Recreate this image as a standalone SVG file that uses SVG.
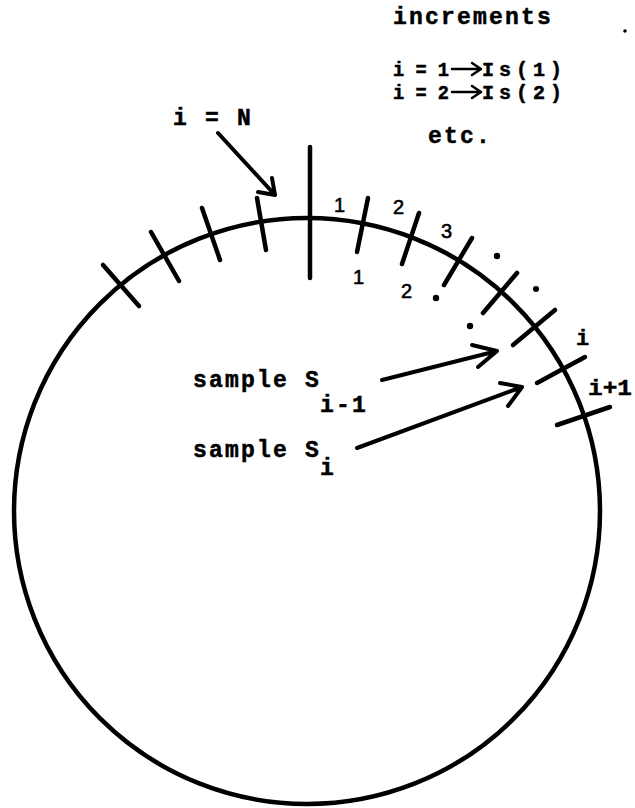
<svg xmlns="http://www.w3.org/2000/svg" width="635" height="808" viewBox="0 0 635 808">
<style>
.ln{stroke:#000;stroke-width:4.5;fill:none}
.tk{stroke:#000;stroke-width:4.5;fill:none;stroke-linecap:round}
.ar{stroke:#000;stroke-width:4;fill:none;stroke-linecap:round;stroke-linejoin:round}
.la{stroke:#000;stroke-width:2.5;fill:none;stroke-linecap:round;stroke-linejoin:round}
.tw{font-family:"Liberation Mono","DejaVu Sans Mono",monospace;font-weight:bold;font-size:23px;letter-spacing:2.2px;fill:#000;stroke:#000;stroke-width:0.5}
.hw{font-family:"Liberation Sans","DejaVu Sans",sans-serif;font-size:20px;fill:#000;stroke:#000;stroke-width:0.6}
.sm{font-family:"Liberation Mono","DejaVu Sans Mono",monospace;font-weight:bold;font-size:22px;fill:#000;stroke:#000;stroke-width:0.4}
.rw{font-family:"Liberation Mono","DejaVu Sans Mono",monospace;font-weight:bold;font-size:20px;fill:#000;stroke:#000;stroke-width:0.5}
</style>
<rect width="635" height="808" fill="#fff"/>
<g id="circle">
<circle class="ln" cx="307" cy="511" r="293"/>
<line class="tk" x1="310" y1="147" x2="310" y2="278"/>
</g>
<g id="ticks">
<line class="tk" x1="103" y1="265" x2="139" y2="306"/>
<line class="tk" x1="151" y1="232" x2="179" y2="281"/>
<line class="tk" x1="202" y1="208" x2="220" y2="260"/>
<line class="tk" x1="257" y1="198" x2="266" y2="250"/>
<line class="tk" x1="368" y1="198" x2="357" y2="252"/>
<line class="tk" x1="419" y1="213" x2="402" y2="264"/>
<line class="tk" x1="472" y1="238" x2="444" y2="285"/>
<line class="tk" x1="517" y1="273" x2="483" y2="313"/>
<line class="tk" x1="555" y1="310" x2="513" y2="345"/>
<line class="tk" x1="585" y1="357" x2="537" y2="383"/>
<line class="tk" x1="610" y1="407" x2="557" y2="425"/>
</g>
<g id="dots" fill="#000">
<circle cx="497" cy="256" r="3.2"/>
<circle cx="536" cy="289" r="3"/>
<circle cx="436" cy="298" r="3.2"/>
<circle cx="470" cy="326" r="3.2"/>
<circle cx="625" cy="31" r="1.8"/>
</g>
<g id="tick-labels">
<text class="hw" x="334" y="212">1</text>
<text class="hw" x="393" y="214">2</text>
<text class="hw" x="441" y="238">3</text>
<text class="hw" x="353" y="284">1</text>
<text class="hw" x="401" y="298">2</text>
<text class="sm" x="576" y="345">i</text>
<text class="sm" x="588" y="395" textLength="44" lengthAdjust="spacingAndGlyphs">i+1</text>
</g>
<g id="legend">
<text class="tw" x="393" y="24">increments</text>
<text class="rw" x="393" y="76" textLength="56" lengthAdjust="spacingAndGlyphs">i = 1</text>
<text class="rw" x="482" y="76" textLength="80" lengthAdjust="spacing">Is(1)</text>
<text class="rw" x="393" y="99" textLength="56" lengthAdjust="spacingAndGlyphs">i = 2</text>
<text class="rw" x="482" y="99" textLength="80" lengthAdjust="spacing">Is(2)</text>
<text class="tw" x="428" y="143">etc.</text>
</g>
<g id="label-iN">
<text class="tw" x="173" y="125">i = N</text>
</g>
<g id="label-s-prev">
<text class="tw" x="193" y="387">sample S</text>
<text class="tw" x="320" y="412">i-1</text>
</g>
<g id="label-s-i">
<text class="tw" x="193" y="457">sample S</text>
<text class="tw" x="320" y="475">i</text>
</g>
<g id="connectors">
<path class="la" d="M452 69 H480 M472 63 L481 69 L472 75"/>
<path class="la" d="M452 92 H480 M472 86 L481 92 L472 98"/>
<path class="ar" d="M218 133 L275 195 M258 192 L275 195 L272 178"/>
<path class="ar" d="M382 380 L497 351 M472 345 L497 351 L478 367"/>
<path class="ar" d="M357 448 L522 387 M500 383 L522 387 L508 406"/>
</g>
</svg>
